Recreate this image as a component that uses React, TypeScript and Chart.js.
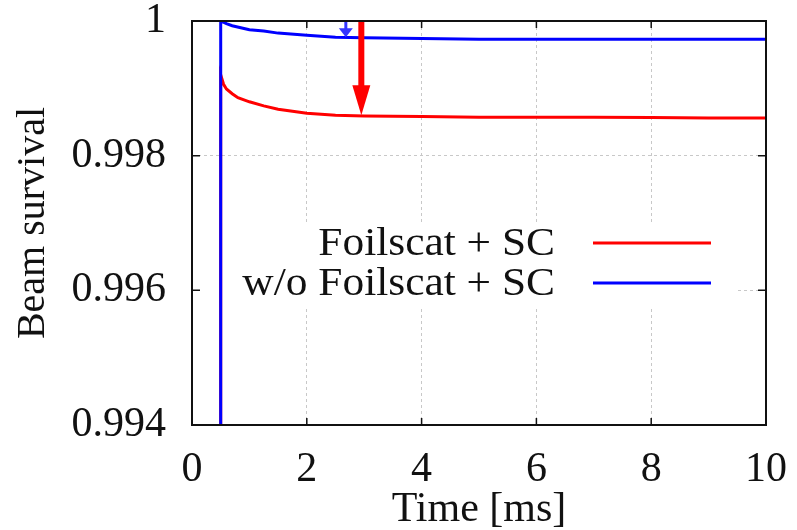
import React, { useEffect, useRef } from 'react';
import { Chart, registerables } from 'chart.js';

Chart.register(...registerables);

// ---- data ----
const redX = [0.5, 0.5, 0.55, 0.6, 0.7, 0.8, 1.0, 1.25, 1.5, 1.75, 2.0, 2.5, 3.0, 4.0, 5.0, 6.0, 7.0, 8.0, 9.0, 10.0];
const redY = [0.9935, 0.9992, 0.99906, 0.99899, 0.99892, 0.99886, 0.9988, 0.99874, 0.99869, 0.99866, 0.99863, 0.9986, 0.99859, 0.99858, 0.99857, 0.99857, 0.99857, 0.998565, 0.99856, 0.99856];
const blueX = [0.5, 0.5, 0.6, 0.7, 0.85, 1.0, 1.25, 1.5, 2.0, 2.5, 3.0, 4.0, 5.0, 6.0, 7.0, 8.0, 9.0, 10.0];
const blueY = [0.9935, 1.0, 0.99996, 0.99993, 0.9999, 0.99987, 0.99985, 0.99982, 0.99979, 0.99976, 0.99975, 0.99974, 0.99973, 0.99973, 0.99973, 0.99973, 0.99973, 0.99973];
const seriesNames = ['Foilscat + SC', 'w/o Foilscat + SC'];
const seriesColors = ['#ff0000', '#0000ff'];
const xTicks = [0, 2, 4, 6, 8, 10];
const yTicks = [0.994, 0.996, 0.998, 1];
const yTickLabels = ['0.994', '0.996', '0.998', '1'];
const arrowX = [2.68, 2.95];
const arrowFrom = [1.0, 1.0];
const arrowTo = [0.99976, 0.9986];
const arrowColors = ['#3535ff', '#ff0000'];

const FONT = '"Liberation Serif", "Times New Roman", serif';

const legendPlugin = {
  id: 'gpLegendBg',
  beforeDatasetsDraw(chart: any) {
    const ctx = chart.ctx;
    const a = chart.chartArea;
    ctx.save();
    ctx.fillStyle = '#ffffff';
    ctx.fillRect(a.left + 8, 223, 735 - (a.left + 8), 84);
    ctx.restore();
  },
  afterDatasetsDraw(chart: any) {
    const ctx = chart.ctx;
    const a = chart.chartArea;
    const xs = chart.scales.x;
    const ys = chart.scales.y;
    ctx.save();

    // arrows
    const shaftW = [3, 6];
    const headW = [14, 18];
    const headL = [9, 30];
    for (let i = 0; i < arrowX.length; i++) {
      const px = xs.getPixelForValue(arrowX[i]);
      const y0 = ys.getPixelForValue(arrowFrom[i]);
      const y1 = ys.getPixelForValue(arrowTo[i]);
      ctx.fillStyle = arrowColors[i];
      ctx.fillRect(px - shaftW[i] / 2, y0, shaftW[i], y1 - y0 - headL[i] + 1);
      ctx.beginPath();
      ctx.moveTo(px - headW[i] / 2, y1 - headL[i]);
      ctx.lineTo(px + headW[i] / 2, y1 - headL[i]);
      ctx.lineTo(px, y1);
      ctx.closePath();
      ctx.fill();
    }

    // frame
    ctx.strokeStyle = '#111';
    ctx.lineWidth = 2;
    ctx.strokeRect(a.left, a.top, a.right - a.left, a.bottom - a.top);
    ctx.lineWidth = 1.5;
    ctx.beginPath();
    for (const v of xTicks) {
      const px = xs.getPixelForValue(v);
      ctx.moveTo(px, a.top);
      ctx.lineTo(px, a.top + 7);
      ctx.moveTo(px, a.bottom);
      ctx.lineTo(px, a.bottom - 7);
    }
    for (const v of yTicks) {
      const py = ys.getPixelForValue(v);
      ctx.moveTo(a.left, py);
      ctx.lineTo(a.left + 8, py);
      ctx.moveTo(a.right, py);
      ctx.lineTo(a.right - 8, py);
    }
    ctx.stroke();

    // legend (text slightly widened as in the reference)
    ctx.font = `40px ${FONT}`;
    ctx.textAlign = 'right';
    ctx.textBaseline = 'middle';
    ctx.fillStyle = '#111';
    const rows = [243, 283];
    const sx = 1.085;
    for (let i = 0; i < seriesNames.length; i++) {
      ctx.save();
      ctx.translate(555, rows[i] + 1);
      ctx.scale(sx, 1);
      ctx.fillText(seriesNames[i], 0, 0);
      ctx.restore();
      ctx.strokeStyle = seriesColors[i];
      ctx.lineWidth = 3;
      ctx.beginPath();
      ctx.moveTo(593, rows[i]);
      ctx.lineTo(711, rows[i]);
      ctx.stroke();
    }
    ctx.restore();
  },
};

const zeroPad = (s: any) => {
  s.paddingTop = 0;
  s.paddingBottom = 0;
  s.paddingLeft = 0;
  s.paddingRight = 0;
};

export default function App() {
  const ref = useRef<HTMLCanvasElement | null>(null);
  useEffect(() => {
    if (!ref.current) return;
    const chart = new Chart(ref.current, {
      type: 'line',
      data: {
        datasets: [
          {
            label: seriesNames[0],
            data: redX.map((x, i) => ({ x, y: redY[i] })),
            borderColor: seriesColors[0],
            borderWidth: 3,
            pointRadius: 0,
            tension: 0,
            order: 2,
          },
          {
            label: seriesNames[1],
            data: blueX.map((x, i) => ({ x, y: blueY[i] })),
            borderColor: seriesColors[1],
            borderWidth: 3,
            pointRadius: 0,
            tension: 0,
            order: 1,
          },
        ],
      },
      options: {
        animation: false,
        responsive: false,
        devicePixelRatio: 1,
        layout: { padding: { top: 21, right: 31, left: 0, bottom: 0 } },
        plugins: { legend: { display: false }, tooltip: { enabled: false } },
        scales: {
          x: {
            type: 'linear',
            min: 0,
            max: 10,
            afterBuildTicks: (s: any) => { s.ticks = xTicks.map((v) => ({ value: v })); },
            afterFit: (s: any) => { s.height = 105; zeroPad(s); },
            grid: { color: '#c8c8c8', lineWidth: 1, drawTicks: false },
            border: { display: false, dash: [3, 3] },
            ticks: {
              autoSkip: false,
              maxRotation: 0,
              padding: 24,
              color: '#111',
              font: { family: FONT, size: 42, lineHeight: 1 },
              callback: (v: any) => String(v),
            },
            title: {
              display: true,
              text: 'Time [ms]',
              color: '#111',
              font: { family: FONT, size: 42, lineHeight: 1 },
              padding: { top: 0, bottom: -1 },
            },
          },
          y: {
            type: 'linear',
            min: 0.994,
            max: 1,
            afterBuildTicks: (s: any) => { s.ticks = yTicks.map((v) => ({ value: v })); },
            afterFit: (s: any) => { s.width = 192; zeroPad(s); },
            grid: { color: '#c8c8c8', lineWidth: 1, drawTicks: false },
            border: { display: false, dash: [3, 3] },
            ticks: {
              autoSkip: false,
              padding: 26,
              color: '#111',
              font: { family: FONT, size: 42, lineHeight: 1 },
              callback: (v: any) => {
                const idx = yTicks.findIndex((t) => Math.abs(t - v) < 1e-9);
                return idx >= 0 ? yTickLabels[idx] : '';
              },
            },
            title: {
              display: true,
              text: 'Beam survival',
              color: '#111',
              font: { family: FONT, size: 40, lineHeight: 1 },
              padding: { top: 13, bottom: 0 },
            },
          },
        },
      },
      plugins: [legendPlugin],
    } as any);
    return () => chart.destroy();
  }, []);
  return (
    <div style={{ position: 'absolute', left: 0, top: 0, width: 797, height: 530, background: '#fff' }}>
      <canvas ref={ref} width={797} height={530} style={{ display: 'block', width: 797, height: 530 }} />
    </div>
  );
}
